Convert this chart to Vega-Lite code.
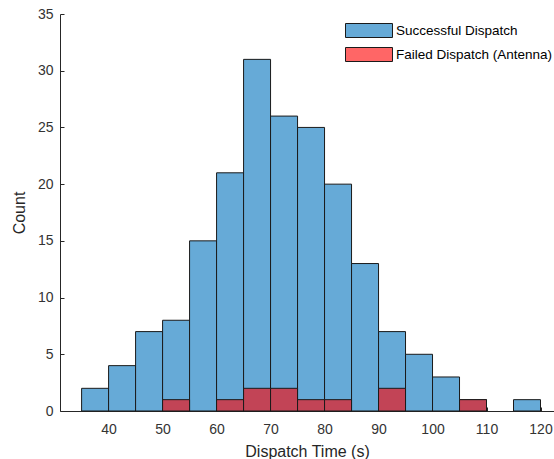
{
  "$schema": "https://vega.github.io/schema/vega-lite/v6.json",
  "width": 494,
  "height": 397,
  "autosize": {"type": "none"},
  "padding": {"left": 60, "top": 14, "right": 0, "bottom": 48},
  "background": "white",
  "config": {
    "view": {"stroke": null},
    "font": "Liberation Sans",
    "axis": {"domainColor": "#262626", "tickColor": "#262626", "labelColor": "#333333", "titleColor": "#262626", "labelFontSize": 14, "titleFontSize": 16, "titleFontWeight": "normal", "grid": false, "tickSize": -4, "labelFont": "Liberation Sans", "titleFont": "Liberation Sans"}
  },
  "data": {
    "values": [
      {"start": 35, "end": 40, "count": 2, "series": "Successful Dispatch"},
      {"start": 40, "end": 45, "count": 4, "series": "Successful Dispatch"},
      {"start": 45, "end": 50, "count": 7, "series": "Successful Dispatch"},
      {"start": 50, "end": 55, "count": 8, "series": "Successful Dispatch"},
      {"start": 55, "end": 60, "count": 15, "series": "Successful Dispatch"},
      {"start": 60, "end": 65, "count": 21, "series": "Successful Dispatch"},
      {"start": 65, "end": 70, "count": 31, "series": "Successful Dispatch"},
      {"start": 70, "end": 75, "count": 26, "series": "Successful Dispatch"},
      {"start": 75, "end": 80, "count": 25, "series": "Successful Dispatch"},
      {"start": 80, "end": 85, "count": 20, "series": "Successful Dispatch"},
      {"start": 85, "end": 90, "count": 13, "series": "Successful Dispatch"},
      {"start": 90, "end": 95, "count": 7, "series": "Successful Dispatch"},
      {"start": 95, "end": 100, "count": 5, "series": "Successful Dispatch"},
      {"start": 100, "end": 105, "count": 3, "series": "Successful Dispatch"},
      {"start": 105, "end": 110, "count": 1, "series": "Successful Dispatch"},
      {"start": 115, "end": 120, "count": 1, "series": "Successful Dispatch"},
      {"start": 50, "end": 55, "count": 1, "series": "Failed Dispatch (Antenna)"},
      {"start": 60, "end": 65, "count": 1, "series": "Failed Dispatch (Antenna)"},
      {"start": 65, "end": 70, "count": 2, "series": "Failed Dispatch (Antenna)"},
      {"start": 70, "end": 75, "count": 2, "series": "Failed Dispatch (Antenna)"},
      {"start": 75, "end": 80, "count": 1, "series": "Failed Dispatch (Antenna)"},
      {"start": 80, "end": 85, "count": 1, "series": "Failed Dispatch (Antenna)"},
      {"start": 90, "end": 95, "count": 2, "series": "Failed Dispatch (Antenna)"},
      {"start": 105, "end": 110, "count": 1, "series": "Failed Dispatch (Antenna)"}
    ]
  },
  "encoding": {
    "x": {"field": "start", "type": "quantitative", "scale": {"domain": [31, 122.5], "nice": false, "zero": false}, "axis": {"values": [40, 50, 60, 70, 80, 90, 100, 110, 120], "title": "Dispatch Time (s)", "labelPadding": 15, "titlePadding": 7}},
    "x2": {"field": "end"},
    "y": {"field": "count", "type": "quantitative", "stack": null, "scale": {"domain": [0, 35], "nice": false, "padding": 0}, "axis": {"values": [0, 5, 10, 15, 20, 25, 30, 35], "title": "Count", "labelPadding": 11, "titlePadding": 10}},
    "y2": {"datum": 0}
  },
  "layer": [
    {
      "transform": [{"filter": "datum.series === 'Successful Dispatch'"}],
      "mark": {"type": "bar", "stroke": "#1a1a1a", "strokeWidth": 1},
      "encoding": {
        "color": {"field": "series", "type": "nominal", "scale": {"domain": ["Successful Dispatch", "Failed Dispatch (Antenna)"], "range": ["#66AAD7", "#FF6666"]},
          "legend": {"title": null, "orient": "none", "legendX": 301.5, "legendY": 9, "padding": 0, "symbolType": "M-3.357,-1H3.357V1H-3.357Z", "symbolSize": 196, "symbolOpacity": 1, "symbolStrokeColor": "#1a1a1a", "symbolStrokeWidth": 1, "labelFontSize": 13.5, "labelColor": "#000", "labelOffset": 19.5, "rowPadding": 5, "labelLimit": 300}}
      }
    },
    {
      "transform": [{"filter": "datum.series === 'Failed Dispatch (Antenna)'"}],
      "mark": {"type": "bar", "fill": "#C24456", "stroke": "#1a1a1a", "strokeWidth": 1}
    }
  ]
}
